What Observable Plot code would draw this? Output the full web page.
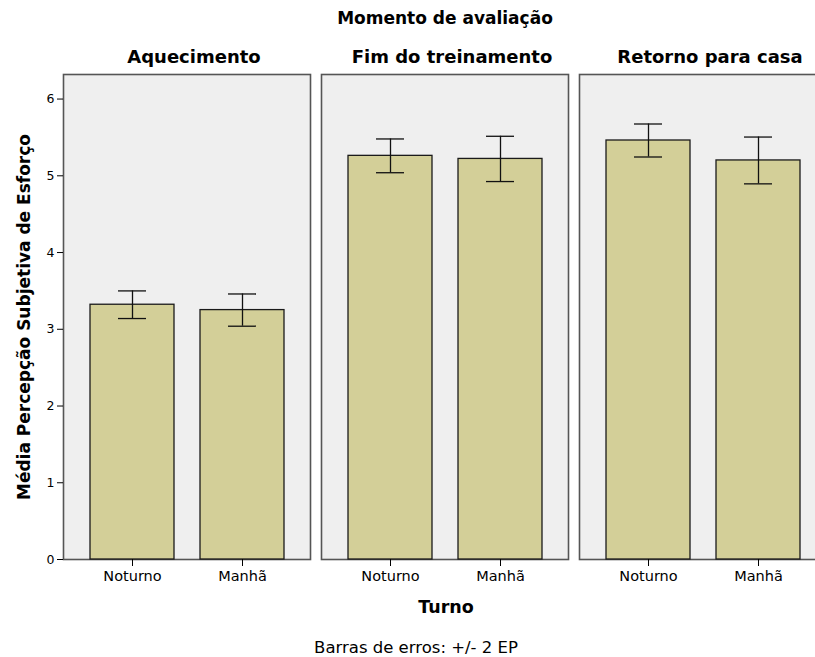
<!DOCTYPE html>
<html>
<head>
<meta charset="utf-8">
<script src="https://cdn.jsdelivr.net/npm/d3@7"></script>
<script src="https://cdn.jsdelivr.net/npm/@observablehq/plot@0.6"></script>
<style>
  body { margin: 0; background: #fff; }
  #chart { width: 815px; overflow: hidden; font-family: "DejaVu Sans", sans-serif; color: #000; }
  #plot svg { max-width: none !important; display: block; }
  .titulo { height: 36px; line-height: 36px; font-weight: bold; font-size: 17px; text-align: center; padding-left: 75px; }
  .eixo-x { height: 34px; line-height: 34px; font-weight: bold; font-size: 17.5px; text-align: center; padding-left: 77px; }
  .nota { height: 48px; line-height: 48px; font-size: 16.5px; text-align: center; padding-left: 17px; }
</style>
</head>
<body>
<div id="chart">
  <div class="titulo">Momento de avaliação</div>
  <div id="plot"></div>
  <div class="eixo-x">Turno</div>
  <div class="nota">Barras de erros: +/- 2 EP</div>
</div>
<script>
// Momentos de avaliação (painéis) e turnos (barras em cada painel)
const momentos = ["Aquecimento", "Fim do treinamento", "Retorno para casa"];
const turnos = ["Noturno", "Manhã"];

// Média da percepção subjetiva de esforço por momento
const mediaNoturno = [3.32, 5.26, 5.46];
const mediaManha = [3.25, 5.22, 5.20];

// Meia-amplitude das barras de erro (2 erros-padrão)
const erroNoturno = [0.18, 0.22, 0.215];
const erroManha = [0.21, 0.295, 0.305];

const yTicks = [0, 1, 2, 3, 4, 5, 6];
const rotuloY = "Média Percepção Subjetiva de Esforço";

const medias = [mediaNoturno, mediaManha];
const erros = [erroNoturno, erroManha];
const dados = momentos.flatMap((momento, i) =>
  turnos.map((turno, j) => ({
    momento,
    turno,
    media: medias[j][i],
    erro: erros[j][i]
  }))
);

const traco = { stroke: "#111", strokeWidth: 1.3 };

const grafico = Plot.plot({
  width: 828,
  height: 554,
  marginLeft: 62,
  marginRight: 1,
  marginTop: 38,
  marginBottom: 31,
  style: { fontFamily: "DejaVu Sans, sans-serif", fontSize: "13px", color: "#000", background: "transparent", overflow: "visible" },
  fx: { domain: momentos, padding: 0.0425, axis: null, label: null },
  x: { domain: turnos, padding: 0.24, label: null },
  y: { domain: [0, 6.32], label: null },
  marks: [
    Plot.frame({ fill: "#efefef", stroke: "#555", strokeWidth: 1.6 }),
    Plot.barY(dados, { fx: "momento", x: "turno", y: "media", fill: "#d3cf98", stroke: "#1a1a1a", strokeWidth: 1.3 }),
    Plot.ruleX(dados, { fx: "momento", x: "turno", y1: d => d.media - d.erro, y2: d => d.media + d.erro, ...traco }),
    Plot.tickY(dados, { fx: "momento", x: "turno", y: d => d.media - d.erro, insetLeft: 28, insetRight: 28, ...traco }),
    Plot.tickY(dados, { fx: "momento", x: "turno", y: d => d.media + d.erro, insetLeft: 28, insetRight: 28, ...traco }),
    Plot.axisX({ tickSize: 7, tickPadding: 4, label: null, fontSize: 14.5 }),
    Plot.axisY({ ticks: yTicks, tickSize: 6, tickPadding: 3, tickFormat: "d", label: null, fontSize: 12.5 }),
    Plot.text(momentos, { fx: d => d, text: d => d, frameAnchor: "top", lineAnchor: "middle", dy: -17, dx: 7, fontWeight: "bold", fontSize: 18 }),
    Plot.text([momentos[0]], { fx: d => d, text: () => rotuloY, frameAnchor: "left", textAnchor: "middle", lineAnchor: "middle", rotate: -90, dx: -39, fontWeight: "bold", fontSize: 17 })
  ]
});

document.getElementById("plot").append(grafico);
</script>
</body>
</html>
